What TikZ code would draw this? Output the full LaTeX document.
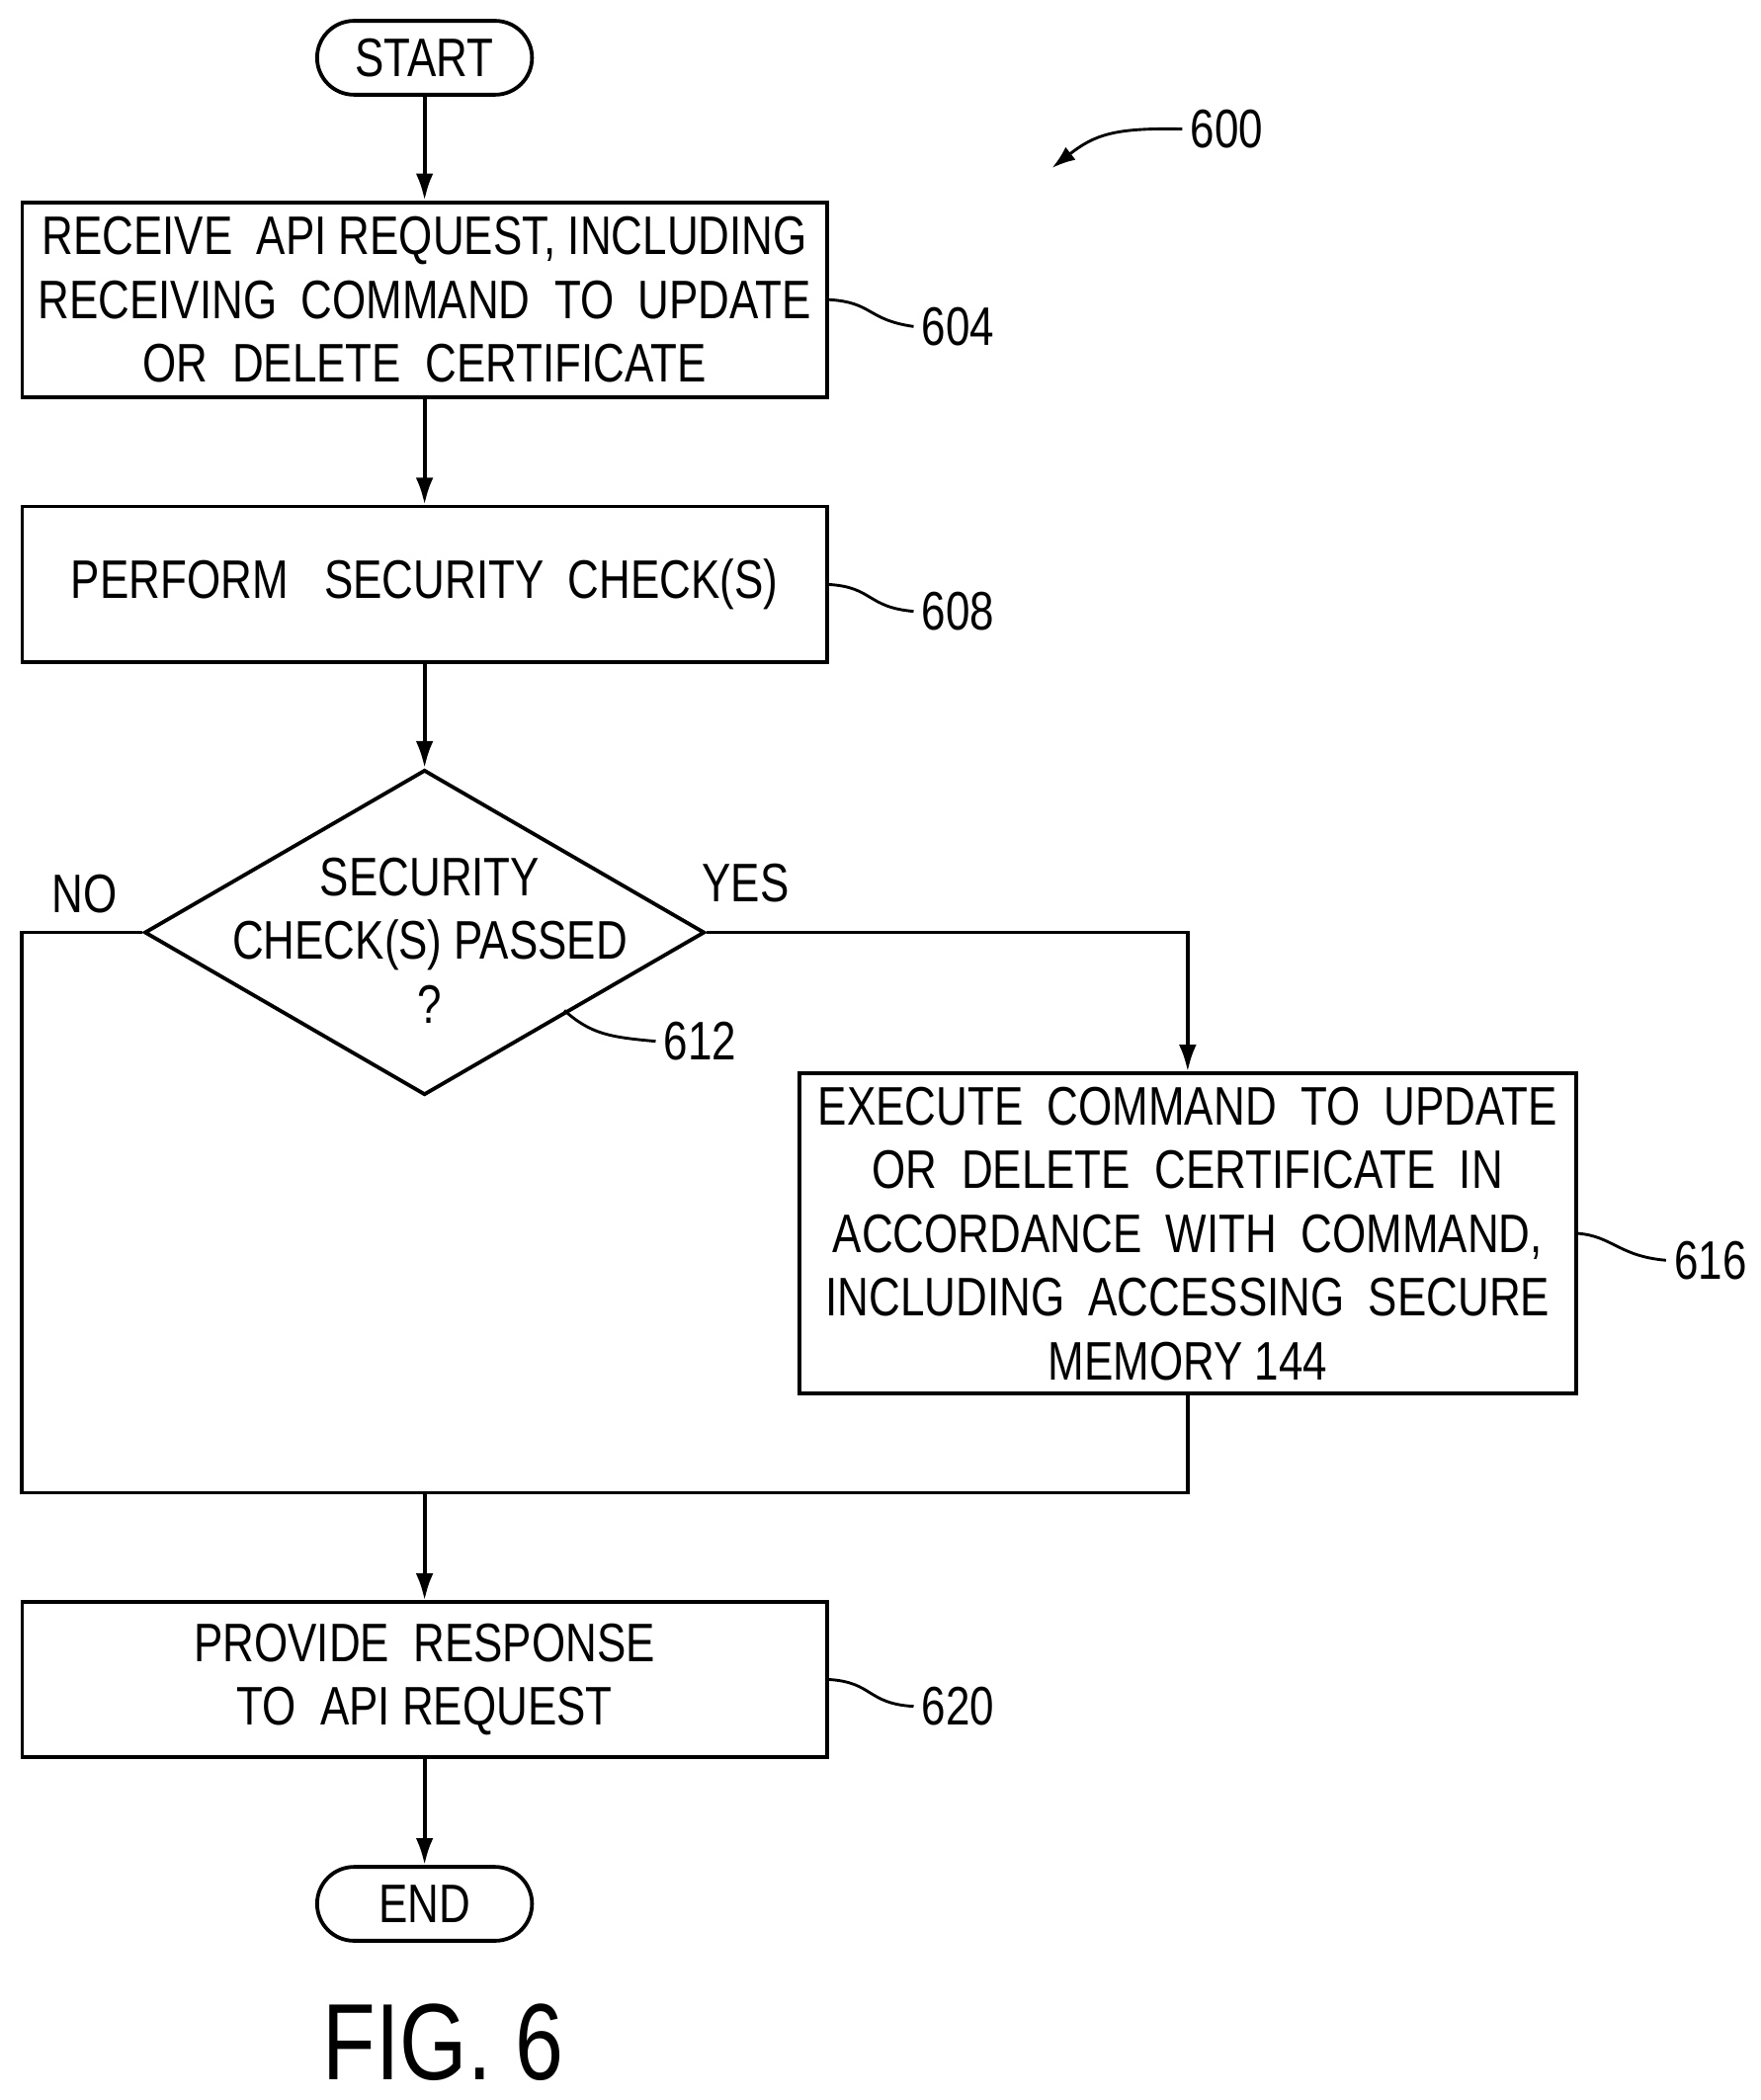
\documentclass[tikz,border=0pt]{standalone}
\usepackage{fontspec}
\setmainfont[FakeStretch=0.8]{Liberation Sans}
\usetikzlibrary{arrows.meta, positioning, shapes.geometric}

\begin{document}
\begin{tikzpicture}[
  x=0.02cm, y=-0.02cm,
  every node/.style = {font=\fontsize{23}{27}\selectfont},
  block/.style = {draw, line width=1.6pt, minimum height=2.9cm, minimum width=11.98cm, align=center, inner sep=0pt},
  term/.style  = {draw, line width=1.6pt, rounded corners=0.55cm, minimum width=3.2cm, minimum height=1.1cm, inner sep=0pt},
  decide/.style = {draw, diamond, line width=1.6pt, minimum width=8.34cm, minimum height=4.84cm, inner sep=0pt, align=center},
  arrow/.style = {line width=1.6pt, -{Latex[length=4mm,width=2.6mm]}},
  line/.style  = {line width=1.6pt},
  lead/.style  = {line width=1.2pt}
]
  \useasboundingbox (0,0) rectangle (1310,1563);

  % terminals
  \node[term] (start) at (316,43) {START};
  \node[term] (end) at (316,1417) {END};

  % process steps
  \node[block] (receive) at (316,223) {RECEIVE\ \ API REQUEST, INCLUDING\\RECEIVING\ \ COMMAND\ \ TO\ \ UPDATE\\OR\ \ DELETE\ \ CERTIFICATE};
  \node[block, minimum height=2.32cm] (check) at (316,435) {PERFORM\ \ \ SECURITY\ \ CHECK(S)};
  \node[decide] (passed) at (316,694) {};
  \node[align=center] (passedtxt) at (320,700) {SECURITY\\CHECK(S) PASSED\\?};
  \node[block, minimum width=11.56cm, minimum height=4.76cm] (execute) at (884,918) {EXECUTE\ \ COMMAND\ \ TO\ \ UPDATE\\OR\ \ DELETE\ \ CERTIFICATE\ \ IN\\ACCORDANCE\ \ WITH\ \ COMMAND,\\INCLUDING\ \ ACCESSING\ \ SECURE\\MEMORY\ 144};
  \node[block, minimum height=2.3cm] (respond) at (316,1250) {PROVIDE\ \ RESPONSE\\TO\ \ API REQUEST};

  % merge point
  \coordinate (merge) at (316,1111);

  % flow
  \draw[arrow] (start) -- (receive);
  \draw[arrow] (receive) -- (check);
  \draw[arrow] (check) -- (passed.north);
  \draw[arrow] (passed.east) -| (execute.north);
  \draw[line] (passed.west) -- (16,694) |- (merge);
  \draw[line] (execute.south) |- (merge);
  \draw[arrow] (merge) -- (respond);
  \draw[arrow] (respond) -- (end);

  \node (no) at (63,665) {NO};
  \node (yes) at (555,657) {YES};

  % reference numerals
  \node[anchor=west] (n600) at (880,96) {600};
  \draw[lead, -{Latex[length=3.5mm,width=2.4mm]}] (n600.west) .. controls (830,95) and (815,100) .. (783,125);
  \node[anchor=west] (n604) at (680,243) {604};
  \draw[lead] (receive.east |- 0,223) .. controls (650,225) and (645,238) .. (n604.west);
  \node[anchor=west] (n608) at (680,455) {608};
  \draw[lead] (check.east) .. controls (650,437) and (645,452) .. (n608.west);
  \node[anchor=west] (n612) at (488,775) {612};
  \draw[lead] (420,752) .. controls (440,770) and (455,772) .. (n612.west);
  \node[anchor=west] (n616) at (1240,938) {616};
  \draw[lead] (execute.east) .. controls (1200,920) and (1205,935) .. (n616.west);
  \node[anchor=west] (n620) at (680,1270) {620};
  \draw[lead] (respond.east) .. controls (650,1252) and (645,1268) .. (n620.west);

  \node[font=\fontsize{46}{52}\selectfont] (fig) at (330,1520) {FIG.\ 6};
\end{tikzpicture}
\end{document}
